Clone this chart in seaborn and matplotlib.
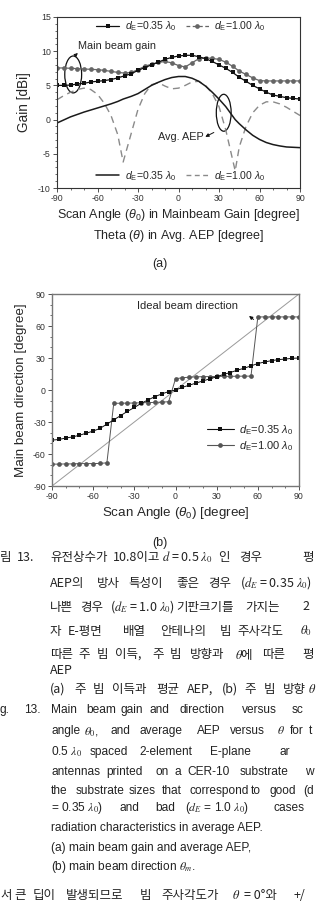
import numpy as np
import pandas as pd
import matplotlib
matplotlib.use('Agg')
import matplotlib.pyplot as plt
import seaborn as sns
from matplotlib.lines import Line2D
from matplotlib.patches import Ellipse
from matplotlib.ticker import MultipleLocator

sns.set_theme(style='ticks')
plt.rcParams['font.family'] = ['Liberation Sans', 'DejaVu Sans']
plt.rcParams['mathtext.fontset'] = 'custom'
plt.rcParams['mathtext.rm'] = 'Liberation Sans'
plt.rcParams['mathtext.it'] = 'Liberation Sans:italic'
plt.rcParams['axes.unicode_minus'] = False

# ---- data: (a) main beam gain and average AEP ----
scan_angle = [-90, -85, -80, -75, -70, -65, -60, -55, -50, -45, -40, -35, -30,
              -25, -20, -15, -10, -5, 0, 5, 10, 15, 20, 25, 30, 35, 40, 45,
              50, 55, 60, 65, 70, 75, 80, 85, 90]
gain_035 = [5.0, 5.0, 5.05, 5.2, 5.3, 5.5, 5.6, 5.7, 5.85, 6.1, 6.4, 6.7, 7.2,
            7.6, 8.0, 8.4, 8.8, 9.1, 9.3, 9.4, 9.4, 9.2, 8.9, 8.5, 8.0, 7.5,
            6.9, 6.2, 5.6, 5.0, 4.5, 4.0, 3.6, 3.4, 3.2, 3.1, 3.0]
gain_100 = [7.55, 7.55, 7.5, 7.45, 7.4, 7.35, 7.3, 7.2, 7.05, 6.9, 6.8, 6.9,
            7.3, 7.8, 8.1, 8.35, 8.5, 8.3, 7.9, 7.7, 8.3, 8.9, 9.0, 8.95, 8.8,
            8.4, 7.8, 7.1, 6.6, 6.1, 5.7, 5.65, 5.65, 5.65, 5.65, 5.65, 5.65]

theta_aep = [-90, -85, -80, -75, -70, -65, -60, -55, -50, -45, -41, -35, -30,
             -25, -20, -15, -10, -5, 0, 5, 10, 15, 20, 25, 30, 35, 42, 45,
             50, 55, 60, 65, 70, 75, 80, 85, 90]
aep_035 = [-0.5, -0.05, 0.4, 0.75, 1.1, 1.4, 1.7, 2.0, 2.3, 2.65, 3.0, 3.4,
           3.8, 4.4, 5.0, 5.45, 5.85, 6.15, 6.3, 6.3, 6.05, 5.6, 4.9, 4.0,
           3.0, 1.9, 0.0, -0.6, -1.5, -2.3, -2.9, -3.35, -3.65, -3.85, -4.0,
           -4.05, -4.1]
aep_100 = [2.9, 3.5, 4.0, 4.4, 4.6, 4.4, 3.7, 2.4, 0.6, -2.2, -6.2, -2.0, 1.5,
           3.8, 5.1, 5.4, 4.9, 4.5, 4.6, 5.0, 5.5, 5.6, 5.0, 3.8, 1.9, -1.5,
           -7.5, -4.0, -1.0, 1.0, 2.1, 2.6, 2.6, 2.3, 1.8, 1.2, 0.6]

# ---- data: (b) main beam direction ----
beam_035 = [-47, -46.4, -45, -44, -42.4, -40.5, -38.5, -36, -32, -28, -24,
            -20, -16.4, -12.5, -9.3, -6.2, -3.7, -1.5, 0, 2.5, 4.5, 6.5, 8.5,
            10.5, 12.4, 14.6, 16.4, 18.6, 20.4, 22.6, 24.8, 26.3, 27.5, 28.5,
            29, 29.7, 30]
beam_100 = [-69.5, -69.5, -69.3, -69.3, -69, -69, -69, -68.8, -68.3,
            -12.5, -12.4, -12.3, -12.2, -12, -11.8, -11.6, -11.4, -11,
            10.5, 11.5, 12, 12.3, 12.5, 12.6, 12.7, 12.8, 12.8, 12.9, 13, 13,
            68.5, 68.5, 68.5, 68.5, 68.5, 68.5, 68.5]
ideal_angle = [-90, 90]

LBL_035 = r'$d_{\mathrm{E}}$=0.35 $\lambda_0$'
LBL_100 = r'$d_{\mathrm{E}}$=1.00 $\lambda_0$'

W, H = 316, 905
fig = plt.figure(figsize=(W / 100, H / 100), dpi=100)
fig.patch.set_facecolor('white')


def style_axes(ax):
    ax.set_facecolor('white')
    for s in ax.spines.values():
        s.set_visible(True)
        s.set_color('#333333')
        s.set_linewidth(0.8)
    ax.tick_params(which='major', direction='out', length=3, width=0.6,
                   labelsize=6.3, labelcolor='#333333', color='#333333', pad=1.5)
    ax.tick_params(which='minor', direction='out', length=1.5, width=0.5,
                   color='#333333')


# ================= (a) =================
ax1 = fig.add_axes([57 / W, 1 - 188 / H, 243 / W, 171 / H])
df_gain = pd.DataFrame({'angle': scan_angle, 'g035': gain_035, 'g100': gain_100})
df_aep = pd.DataFrame({'theta': theta_aep, 'a035': aep_035, 'a100': aep_100})

sns.lineplot(data=df_aep, x='theta', y='a100', ax=ax1, color='#8a8a8a', lw=1.0,
             linestyle=(0, (5, 3.5)))
sns.lineplot(data=df_aep, x='theta', y='a035', ax=ax1, color='#1a1a1a', lw=1.1)
sns.lineplot(data=df_gain, x='angle', y='g100', ax=ax1, color='#666666', lw=0.9,
             marker='o', markersize=3.4, markeredgewidth=0, markerfacecolor='#666666')
sns.lineplot(data=df_gain, x='angle', y='g035', ax=ax1, color='#111111', lw=0.9,
             marker='s', markersize=2.8, markeredgewidth=0, markerfacecolor='#111111')

ax1.set_xlim(-90, 90)
ax1.set_ylim(-10, 15)
ax1.xaxis.set_major_locator(MultipleLocator(30))
ax1.xaxis.set_minor_locator(MultipleLocator(10))
ax1.yaxis.set_major_locator(MultipleLocator(5))
ax1.yaxis.set_minor_locator(MultipleLocator(1))
style_axes(ax1)
ax1.set_ylabel('Gain [dBi]', fontsize=9.8, labelpad=5)
ax1.set_xlabel('Scan Angle ($\\theta_0$) in Mainbeam Gain [degree]\n'
               'Theta ($\\theta$) in Avg. AEP [degree]',
               fontsize=9.0, labelpad=3, linespacing=1.45)

h_top = [Line2D([], [], color='#111111', lw=0.9, marker='s', ms=2.8, mew=0),
         Line2D([], [], color='#666666', lw=0.9, ls=(0, (3, 2)), marker='o', ms=3.4, mew=0)]
leg1 = ax1.legend(h_top, [LBL_035, LBL_100], ncol=2, loc='center',
                  bbox_to_anchor=(0.51, 0.945), frameon=False, fontsize=7.6,
                  handlelength=2.2, columnspacing=0.9, handletextpad=0.5,
                  borderpad=0)
ax1.add_artist(leg1)
h_bot = [Line2D([], [], color='#1a1a1a', lw=1.1),
         Line2D([], [], color='#8a8a8a', lw=1.0, ls=(0, (3.5, 2.5)))]
ax1.legend(h_bot, [LBL_035, LBL_100], ncol=2, loc='center',
           bbox_to_anchor=(0.51, 0.07), frameon=False, fontsize=7.6,
           handlelength=2.2, columnspacing=0.9, handletextpad=0.5, borderpad=0)

ax1.add_patch(Ellipse((-78, 6.6), 12.5, 5.4, fill=False, lw=0.9, ec='#111111'))
ax1.add_patch(Ellipse((33.5, 1.0), 11, 5.4, fill=False, lw=0.9, ec='#111111'))
ax1.text(-74.5, 10.8, 'Main beam gain', fontsize=7.8, va='center', ha='left')
ax1.text(-15.5, -2.6, 'Avg. AEP', fontsize=7.8, va='center', ha='left')
ax1.annotate('', xy=(-73, 10.0), xytext=(-77, 9.3),
             arrowprops=dict(arrowstyle='-|>', lw=0.7, color='#111111',
                             mutation_scale=5))
ax1.annotate('', xy=(18, -2.7), xytext=(28, -1.7),
             arrowprops=dict(arrowstyle='-|>', lw=0.7, color='#111111',
                             mutation_scale=5))

fig.text(160 / W, 1 - 264 / H, '(a)', fontsize=9, ha='center', va='center')

# ================= (b) =================
ax2 = fig.add_axes([52 / W, 1 - 486 / H, 247 / W, 192 / H])
df_beam = pd.DataFrame({'angle': scan_angle, 'b035': beam_035, 'b100': beam_100})
sns.lineplot(x=ideal_angle, y=ideal_angle, ax=ax2, color='#9a9a9a', lw=0.7)
sns.lineplot(data=df_beam, x='angle', y='b100', ax=ax2, color='#555555', lw=0.7,
             marker='o', markersize=3.4, markeredgewidth=0, markerfacecolor='#555555')
sns.lineplot(data=df_beam, x='angle', y='b035', ax=ax2, color='#111111', lw=0.7,
             marker='s', markersize=2.8, markeredgewidth=0, markerfacecolor='#111111')
ax2.set_xlim(-90, 90)
ax2.set_ylim(-90, 90)
ax2.xaxis.set_major_locator(MultipleLocator(30))
ax2.xaxis.set_minor_locator(MultipleLocator(10))
ax2.yaxis.set_major_locator(MultipleLocator(30))
ax2.yaxis.set_minor_locator(MultipleLocator(10))
style_axes(ax2)
for s in ax2.spines.values():
    s.set_color('#777777')
    s.set_linewidth(1.0)
ax2.set_ylabel('Main beam direction [degree]', fontsize=9.6, labelpad=4)
ax2.set_xlabel('Scan Angle ($\\theta_0$) [degree]', fontsize=9.6, labelpad=3)
h_b = [Line2D([], [], color='#111111', lw=0.8, marker='s', ms=2.8, mew=0),
       Line2D([], [], color='#555555', lw=0.8, marker='o', ms=3.4, mew=0)]
ax2.legend(h_b, [LBL_035, LBL_100], loc='center right',
           bbox_to_anchor=(1.0, 0.25), frameon=False, fontsize=8,
           handlelength=2.4, handletextpad=0.5, labelspacing=0.2, borderpad=0)
ax2.text(-28, 79, 'Ideal beam direction', fontsize=8, va='center', ha='left')
ax2.annotate('', xy=(52, 71), xytext=(58.5, 64.5),
             arrowprops=dict(arrowstyle='-|>', lw=0.7, color='#111111',
                             mutation_scale=5))

fig.text(160 / W, 1 - 543 / H, '(b)', fontsize=9, ha='center', va='center')

# ================= caption =================
KO = ['Noto Sans CJK KR', 'DejaVu Sans']
EN = ['Liberation Sans', 'DejaVu Sans']
caption = [
    (557, KO, [(0, '림'), (17, '13.'), (50, '유전상수가'), (113, '10.8이고'),
               (162, '$d$ = 0.5 $\\lambda_0$'), (218, '인'), (239, '경우'), (302, '평')]),
    (583, KO, [(50, 'AEP의'), (97, '방사'), (128, '특성이'), (176, '좋은'), (208, '경우'),
               (240, '($d_E$ = 0.35 $\\lambda_0$)')]),
    (607, KO, [(50, '나쁜'), (80, '경우'), (110, '($d_E$ = 1.0 $\\lambda_0$)'),
               (176, '기판크기를'), (245, '가지는'), (302, '2')]),
    (631, KO, [(50, '자'), (68, 'E-평면'), (123, '배열'), (160, '안테나의'), (220, '빔'),
               (237, '주사각도'), (300, '$\\theta_0$')]),
    (654, KO, [(50, '따른'), (78, '주'), (97, '빔'), (115, '이득,'), (152, '주'), (170, '빔'),
               (190, '방향과'), (235, '$\\theta$에'), (262, '따른'), (302, '평')]),
    (670, KO, [(50, 'AEP')]),
    (689, KO, [(50, '(a)'), (74, '주'), (93, '빔'), (112, '이득과'), (156, '평균'),
               (187, 'AEP,'), (222, '(b)'), (244, '주'), (264, '빔'), (283, '방향'),
               (308, '$\\theta$')]),
    (710, EN, [(0, 'g.'), (24, '13.'), (51, 'Main'), (86, 'beam'), (120, 'gain'),
               (150, 'and'), (180, 'direction'), (242, 'versus'), (292, 'sc')]),
    (731, EN, [(51, 'angle'), (84, '$\\theta_0$,'), (110, 'and'), (140, 'average'),
               (197, 'AEP'), (230, 'versus'), (277, '$\\theta$'), (290, 'for'), (309, 't')]),
    (752, EN, [(51, '0.5 $\\lambda_0$'), (90, 'spaced'), (139, '2-element'),
               (210, 'E-plane'), (279, 'ar')]),
    (772, EN, [(51, 'antennas'), (106, 'printed'), (155, 'on'), (174, 'a'),
               (187, 'CER-10'), (240, 'substrate'), (305, 'w')]),
    (791, EN, [(51, 'the'), (76, 'substrate'), (129, 'sizes'), (162, 'that'),
               (190, 'correspond'), (251, 'to'), (270, 'good'), (303, '(d')]),
    (808, EN, [(51, '= 0.35 $\\lambda_0$)'), (119, 'and'), (155, 'bad'),
               (185, '($d_E$ = 1.0 $\\lambda_0$)'), (273, 'cases')]),
    (828, EN, [(51, 'radiation characteristics in average AEP.')]),
    (848, EN, [(51, '(a) main beam gain and average AEP,')]),
    (867, EN, [(51, '(b) main beam direction $\\theta_m$.')]),
    (895, KO, [(0, '서'), (14, '큰'), (33, '딥이'), (66, '발생되므로'), (140, '빔'),
               (161, '주사각도가'), (232, '$\\theta$'), (244, '= 0°와'), (294, '+/')]),
]
for y, fam, words in caption:
    for x, w in words:
        fig.text(x / W, 1 - y / H, w, family=fam, fontsize=9.0 if fam is KO else 8.6,
                 color='#222222', ha='left', va='center', math_fontfamily='stix')

fig.savefig('out.png', dpi=100, facecolor='white')
